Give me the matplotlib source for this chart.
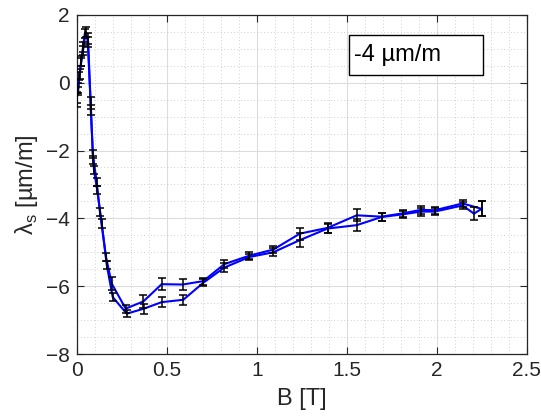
import matplotlib
matplotlib.use('Agg')
import matplotlib.pyplot as plt
from matplotlib.patches import Rectangle
from matplotlib.ticker import MultipleLocator
import numpy as np

plt.rcParams['font.family'] = ['Liberation Sans', 'DejaVu Sans']
plt.rcParams['mathtext.fontset'] = 'custom'
plt.rcParams['mathtext.rm'] = 'Liberation Sans'

# increasing field branch
b_up = [0.000, 0.008, 0.016, 0.025, 0.035, 0.045, 0.060, 0.078, 0.089, 0.111, 0.129,
        0.163, 0.194, 0.272, 0.370, 0.472, 0.589, 0.703, 0.820, 0.959, 1.092, 1.240,
        1.394, 1.556, 1.694, 1.814, 1.911, 1.990, 2.144, 2.250]
lam_up = [-0.50, -0.15, 0.25, 0.65, 1.05, 1.45, 1.30, -0.60, -2.09, -2.93, -3.81,
          -5.14, -5.92, -6.66, -6.45, -5.94, -5.95, -5.85, -5.35, -5.10, -4.92, -4.45,
          -4.28, -3.91, -3.95, -3.85, -3.75, -3.76, -3.56, -3.72]
err_up = [0.22, 0.15, 0.15, 0.15, 0.15, 0.14, 0.15, 0.18, 0.12, 0.12, 0.12,
          0.12, 0.18, 0.12, 0.18, 0.18, 0.15, 0.10, 0.12, 0.10, 0.10, 0.18,
          0.15, 0.18, 0.12, 0.10, 0.12, 0.10, 0.10, 0.22]

# decreasing field branch
b_down = [2.250, 2.207, 2.144, 1.990, 1.911, 1.814, 1.694, 1.556, 1.394, 1.240, 1.092,
          0.959, 0.820, 0.703, 0.592, 0.472, 0.374, 0.278, 0.200, 0.167, 0.139, 0.114,
          0.096, 0.092, 0.078, 0.064, 0.050, 0.035, 0.025, 0.015, 0.008, 0.000]
lam_down = [-3.72, -3.86, -3.62, -3.80, -3.80, -3.88, -3.96, -4.20, -4.30, -4.64, -5.00,
            -5.14, -5.45, -5.90, -6.40, -6.47, -6.66, -6.81, -6.32, -5.38, -4.15, -3.17,
            -2.58, -2.29, -0.80, 1.20, 1.50, 0.95, 0.60, 0.20, -0.25, -0.45]
err_down = [0.22, 0.20, 0.10, 0.10, 0.12, 0.10, 0.12, 0.18, 0.12, 0.20, 0.12,
            0.10, 0.12, 0.10, 0.15, 0.15, 0.15, 0.10, 0.12, 0.12, 0.12, 0.12,
            0.12, 0.12, 0.15, 0.15, 0.14, 0.12, 0.12, 0.12, 0.12, 0.15]

fig = plt.figure(figsize=(5.41, 4.19), dpi=100)
ax = fig.add_axes([0.1418, 0.155, 0.8317, 0.8096])

for b, lam, err in [(b_up, lam_up, err_up), (b_down, lam_down, err_down)]:
    ax.plot(b, lam, color='#0000ff', lw=1.5, zorder=3)
    ax.errorbar(b, lam, yerr=err, fmt='none', ecolor='black', elinewidth=1.1,
                capsize=2.8, capthick=1.1, zorder=4)

ax.set_xlim(0, 2.5)
ax.set_ylim(-8, 2)
ax.xaxis.set_major_locator(MultipleLocator(0.5))
ax.xaxis.set_minor_locator(MultipleLocator(0.1))
ax.yaxis.set_major_locator(MultipleLocator(2))
ax.yaxis.set_minor_locator(MultipleLocator(0.5))
ax.set_xticks([0, 0.5, 1, 1.5, 2, 2.5], ['0', '0.5', '1', '1.5', '2', '2.5'])

ax.grid(which='major', color='#dcdcdc', lw=0.8, ls='-')
ax.grid(which='minor', color='#c0c0c0', lw=0.6, ls=(0, (1, 3)))
ax.set_axisbelow(True)

for s in ax.spines.values():
    s.set_color('#262626')
    s.set_linewidth(0.9)
ax.tick_params(which='both', direction='in', top=True, right=True, colors='#262626',
               labelsize=15, pad=5)
ax.tick_params(which='major', length=5)
ax.tick_params(which='minor', length=0)

ax.set_xlabel('B [T]', fontsize=17, color='#262626', labelpad=6)
ax.set_ylabel(r'λ$_\mathregular{s}$ [µm/m]', fontsize=17, color='#262626', labelpad=4)

ax.add_patch(Rectangle((0.605, 0.822), 0.298, 0.118, transform=ax.transAxes,
                       facecolor='white', edgecolor='black', lw=1.0, zorder=5))
ax.text(0.617, 0.881, '-4 µm/m', transform=ax.transAxes, fontsize=17,
        va='center', ha='left', zorder=6)

fig.savefig('out.png', dpi=100)
